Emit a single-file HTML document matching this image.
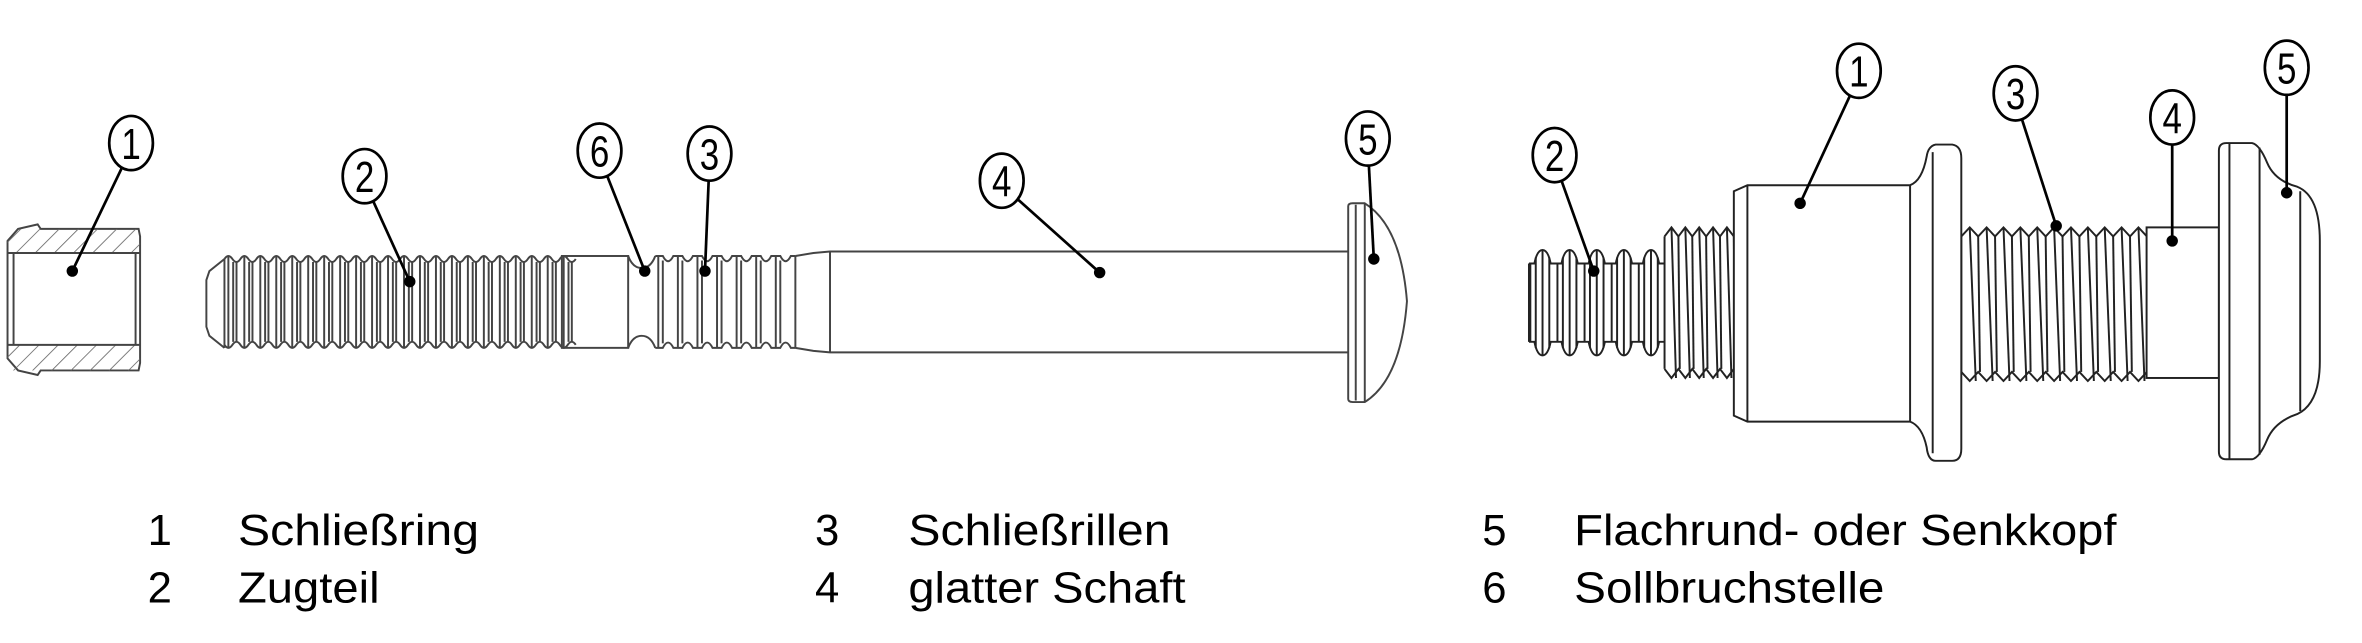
<!DOCTYPE html>
<html><head><meta charset="utf-8">
<style>
html,body{margin:0;padding:0;background:#fff;}
svg{display:block;}
</style></head>
<body>
<svg id="s" width="2362" height="643" viewBox="0 0 1568 427" preserveAspectRatio="none" xmlns="http://www.w3.org/2000/svg">
<defs>
<pattern id="hatch" width="9" height="9" patternUnits="userSpaceOnUse" patternTransform="rotate(45)">
<line x1="0" y1="0" x2="0" y2="9" stroke="#666" stroke-width="1.1"/>
</pattern>
</defs>
<g fill="none" stroke="#444" stroke-width="1.3" id="draw">
<path d="M5,160 L12,152 L25,149 L27,152 L92,152 L93,157 L93,241 L92,246 L27,246 L25,249 L12,246 L5,238 Z" fill="#fff"/>
<rect x="5" y="152" width="88" height="16" fill="url(#hatch)" stroke="none"/>
<rect x="5" y="229" width="88" height="17" fill="url(#hatch)" stroke="none"/>
<line x1="5" y1="168" x2="93" y2="168"/>
<line x1="5" y1="229" x2="93" y2="229"/>
<line x1="9" y1="168" x2="9" y2="229"/>
<line x1="90" y1="168" x2="90" y2="229"/>
<path d="M149,172 L139,180 L137,186 L137,217 L139,223 L149,231"/>
<line x1="149" y1="172" x2="149" y2="231"/>
<g id="thr1"></g>
<rect x="373" y="170" width="44" height="61"/>
<path d="M417,170 Q420,178 426,178 Q432,178 435,170"/>
<path d="M417,231 Q420,223 426,223 Q432,223 435,231"/>
<g id="thr2"></g>
<path d="M528,170 L540,168 L551,167 L895,167"/>
<path d="M528,231 L540,233 L551,234 L895,234"/>
<line x1="528" y1="170" x2="528" y2="231"/>
<line x1="551" y1="167" x2="551" y2="234"/>
<path d="M895,137 Q895,135 898,135 L906,135 Q930,150 934,200 Q930,252 906,267 L898,267 Q895,267 895,265 Z" fill="#fff"/>
<line x1="900" y1="136" x2="900" y2="266"/>
<line x1="906" y1="135" x2="906" y2="267"/>

<g id="rt" stroke="#222"></g>
<path d="M1160,123 L1268,123 Q1276,120 1279,104 Q1280,97 1285,96 L1296,96 Q1302,97 1302,105 L1302,298 Q1302,306 1296,306 L1285,306 Q1280,306 1279,297 Q1276,283 1268,280 L1160,280 L1151,276 L1151,127 Z" fill="#fff" stroke="#222"/>
<line x1="1160" y1="123" x2="1160" y2="280" stroke="#222"/>
<line x1="1268" y1="123" x2="1268" y2="280" stroke="#222"/>
<line x1="1283" y1="101" x2="1283" y2="301" stroke="#222"/>
<rect x="1425" y="151" width="48" height="100" fill="#fff" stroke="#222"/>
<path d="M1473,100 Q1473,95 1478,95 L1495,95 Q1500,96 1505,108 Q1510,120 1525,124 Q1540,130 1540,160 L1540,240 Q1540,268 1525,275 Q1510,280 1505,292 Q1500,304 1495,305 L1478,305 Q1473,305 1473,300 Z" fill="#fff" stroke="#222"/>
<line x1="1480" y1="95" x2="1480" y2="305" stroke="#222"/>
<line x1="1500" y1="98" x2="1500" y2="302" stroke="#222"/>
<line x1="1527" y1="127" x2="1527" y2="273" stroke="#222"/>
</g>

<g stroke="#000" stroke-width="1.8" fill="none" id="callouts"></g>
<g fill="#000" id="dots"></g>
<g font-family="'Liberation Sans', 'DejaVu Sans', sans-serif" font-size="29" text-anchor="middle" fill="#000" id="nums"></g>

<g font-family="'Liberation Sans', sans-serif" font-size="29" fill="#000">
<text x="98" y="362">1</text>
<text x="158" y="362" textLength="160" lengthAdjust="spacingAndGlyphs">Schließring</text>
<text x="98" y="400">2</text>
<text x="158" y="400" textLength="94" lengthAdjust="spacingAndGlyphs">Zugteil</text>
<text x="541" y="362">3</text>
<text x="603" y="362" textLength="174" lengthAdjust="spacingAndGlyphs">Schließrillen</text>
<text x="541" y="400">4</text>
<text x="603" y="400" textLength="184" lengthAdjust="spacingAndGlyphs">glatter Schaft</text>
<text x="984" y="362">5</text>
<text x="1045" y="362" textLength="360" lengthAdjust="spacingAndGlyphs">Flachrund- oder Senkkopf</text>
<text x="984" y="400">6</text>
<text x="1045" y="400" textLength="206" lengthAdjust="spacingAndGlyphs">Sollbruchstelle</text>
</g>
</svg>
<script>
var NS="http://www.w3.org/2000/svg";
function el(p,t,a){var e=document.createElementNS(NS,t);for(var k in a)e.setAttribute(k,a[k]);p.appendChild(e);return e;}
function ln(p,x1,y1,x2,y2){return el(p,"line",{x1:x1,y1:y1,x2:x2,y2:y2});}
var t1=document.getElementById("thr1");
var a="M149,172",b="M149,229";
for(var x=149;x<372;x+=10.6){
 a+=" Q"+(x+2.6)+",168 "+(x+5.3)+",172 Q"+(x+8)+",176 "+(x+10.6)+",172";
 b+=" Q"+(x+2.6)+",233 "+(x+5.3)+",229 Q"+(x+8)+",225 "+(x+10.6)+",229";
 ln(t1,x+2.6,170,x+2.6,231);ln(t1,x+5.8,174,x+5.8,227);ln(t1,x+8,174,x+8,227);
}
el(t1,"path",{d:a});el(t1,"path",{d:b});
var t2=document.getElementById("thr2");
var d1="M435,170",d2="M435,231";
for(var x=437;x<528;x+=13){ln(t2,x,170,x,231);ln(t2,x+3,173,x+3,228);
 d1+=" L"+(x+3)+",170 Q"+(x+6.5)+",177 "+(x+10)+",170 L"+Math.min(x+13,528)+",170";
 d2+=" L"+(x+3)+",231 Q"+(x+6.5)+",224 "+(x+10)+",231 L"+Math.min(x+13,528)+",231";}
el(t2,"path",{d:d1});el(t2,"path",{d:d2});
var rt=document.getElementById("rt");
function thread(x0,x1,yt,yb,p,dep,lean){
 var a="M"+x0+","+(yt+dep),b="M"+x0+","+(yb-dep);
 for(var x=x0;x<x1-0.1;x+=p){
  a+=" L"+(x+p/2)+","+yt+" L"+(x+p)+","+(yt+dep);
  b+=" L"+(x+p/2)+","+yb+" L"+(x+p)+","+(yb-dep);
  ln(rt,x+p/2,yt,x+p/2+lean,yb);
  ln(rt,x+p,yt+dep,x+p+lean*0.3,yb-dep);
 }
 el(rt,"path",{d:a});el(rt,"path",{d:b});
 ln(rt,x0,yt+dep,x0,yb-dep);
}
(function(){
 var x0=1015,x1=1105,p=18,yt=166,yb=236,dep=9;
 var a="M"+x0+","+(yt+dep),b="M"+x0+","+(yb-dep);
 for(var x=x0;x<x1-0.1;x+=p){
  a+=" L"+(x+p*0.2)+","+(yt+dep)+" Q"+(x+p*0.3)+","+yt+" "+(x+p/2)+","+yt+" Q"+(x+p*0.7)+","+yt+" "+(x+p*0.8)+","+(yt+dep)+" L"+(x+p)+","+(yt+dep);
  b+=" L"+(x+p*0.2)+","+(yb-dep)+" Q"+(x+p*0.3)+","+yb+" "+(x+p/2)+","+yb+" Q"+(x+p*0.7)+","+yb+" "+(x+p*0.8)+","+(yb-dep)+" L"+(x+p)+","+(yb-dep);
  ln(rt,x+p*0.25,yt+5,x+p*0.25,yb-5);ln(rt,x+p*0.75,yt+5,x+p*0.75,yb-5);
  ln(rt,x+p/2,yt,x+p/2,yb);ln(rt,x+p*0.05,yt+dep,x+p*0.05,yb-dep);
 }
 el(rt,"path",{d:a});el(rt,"path",{d:b});ln(rt,x0,yt+dep,x0,yb-dep);
})();
thread(1105,1151,151,251,9.2,6,3);
thread(1302,1425,151,253,11.2,6,4);
var C=[["1",87,95,48,180],["2",242,117,272,187],["6",398,100,428,180],["3",471,102,468,180],["4",665,120,730,181],["5",908,92,912,172],
["2",1032,103,1058,180],["1",1234,47,1195,135],["3",1338,62,1365,150],["4",1442,78,1442,160],["5",1518,45,1518,128]];
var cg=document.getElementById("callouts"),dg=document.getElementById("dots"),ng=document.getElementById("nums");
C.forEach(function(c){
 var cx=c[1],cy=c[2],dx=c[3],dy=c[4];
 el(cg,"ellipse",{cx:cx,cy:cy,rx:14.5,ry:18,fill:"#fff"});
 var vx=dx-cx,vy=dy-cy,L=Math.sqrt(vx*vx+vy*vy);
 ln(cg,cx+vx/L*14.5,cy+vy/L*18,dx,dy);
 el(dg,"circle",{cx:dx,cy:dy,r:3.8});
 var t=el(ng,"text",{x:0,y:0,transform:"translate("+cx+","+(cy+10.5)+") scale(0.8,1)"});t.textContent=c[0];
});
</script>
</body></html>
